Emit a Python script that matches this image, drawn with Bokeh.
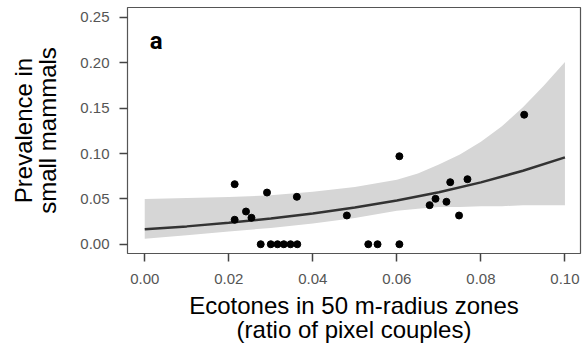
from bokeh.plotting import figure
from bokeh.models import Range1d, FixedTicker
from bokeh.core.properties import value
from bokeh.embed import file_html
from bokeh.resources import INLINE

# observed points
pts_x = [0.0214, 0.0214, 0.0241, 0.0254, 0.0276, 0.0291, 0.0300, 0.0316, 0.0331,
         0.0347, 0.0363, 0.0362, 0.0481, 0.0532, 0.0554, 0.0606, 0.0606, 0.0678,
         0.0692, 0.0718, 0.0727, 0.0748, 0.0768, 0.0903]
pts_y = [0.0662, 0.0270, 0.0361, 0.0292, 0.0, 0.0570, 0.0, 0.0, 0.0,
         0.0, 0.0, 0.0523, 0.0317, 0.0, 0.0, 0.0970, 0.0, 0.0431,
         0.0501, 0.0468, 0.0684, 0.0317, 0.0717, 0.1428]

# fitted curve
fit_x = [0.00, 0.01, 0.02, 0.03, 0.04, 0.05, 0.06, 0.07, 0.08, 0.09, 0.10]
fit_y = [0.0165, 0.0197, 0.0237, 0.0283, 0.0339, 0.0405, 0.0482, 0.0574, 0.0682, 0.0810, 0.0958]

# confidence band
band_x = [0.00, 0.01, 0.02, 0.03, 0.04, 0.05, 0.06, 0.065, 0.07, 0.075, 0.08, 0.085, 0.09, 0.095, 0.10]
band_hi = [0.050, 0.051, 0.052, 0.054, 0.058, 0.063, 0.071, 0.078, 0.088, 0.099, 0.113, 0.130, 0.151, 0.175, 0.201]
band_lo = [0.006, 0.010, 0.014, 0.018, 0.023, 0.029, 0.037, 0.039, 0.041, 0.041, 0.042, 0.042, 0.043, 0.043, 0.043]

x_ticks = [0.00, 0.02, 0.04, 0.06, 0.08, 0.10]
y_ticks = [0.00, 0.05, 0.10, 0.15, 0.20, 0.25]

panel_label = ["a"]

FONT = "Liberation Sans"

p = figure(width=582, height=349, output_backend="svg", toolbar_location=None,
           x_range=Range1d(-0.0041, 0.1037), y_range=Range1d(-0.0102, 0.261),
           min_border_left=127, min_border_right=2, min_border_top=7, min_border_bottom=96)

p.varea(x=band_x, y1=band_lo, y2=band_hi, fill_color="#d6d6d6")
p.line(fit_x, fit_y, line_color="#333333", line_width=2.5)
p.scatter(pts_x, pts_y, size=7, fill_color="black", line_color="black")

p.text(x=[0.0012], y=[0.224], text=panel_label, text_font=value("Roboto"), text_font_size="24px",
       text_font_style="bold", text_color="black", text_baseline="alphabetic", text_align="left")

p.grid.visible = False
p.outline_line_color = "#555555"
p.outline_line_width = 1.2
p.background_fill_color = "white"
p.border_fill_color = "white"

for ax in (p.xaxis[0], p.yaxis[0]):
    ax.axis_line_color = None
    ax.major_tick_line_color = "#444444"
    ax.major_tick_line_width = 1.5
    ax.major_tick_in = 0
    ax.major_tick_out = 8
    ax.minor_tick_line_color = None
    ax.major_label_text_font = FONT
    ax.major_label_text_font_size = "15px"
    ax.major_label_text_color = "#555555"
    ax.axis_label_text_font = FONT
    ax.axis_label_text_font_size = "24px"
    ax.axis_label_text_font_style = "normal"
    ax.axis_label_text_color = "black"
    ax.axis_label_text_line_height = 0.9

p.xaxis.ticker = FixedTicker(ticks=x_ticks)
p.yaxis.ticker = FixedTicker(ticks=y_ticks)
p.xaxis[0].major_label_overrides = {t: f"{t:.2f}" for t in x_ticks}
p.yaxis[0].major_label_overrides = {t: f"{t:.2f}" for t in y_ticks}
p.xaxis.major_label_standoff = 12
p.yaxis.major_label_standoff = 10
p.xaxis.axis_label = "Ecotones in 50 m-radius zones\n(ratio of pixel couples)"
p.yaxis.axis_label = "Prevalence in\nsmall mammals"
p.xaxis.axis_label_standoff = 5
p.yaxis.axis_label_standoff = 16

open("out.html", "w").write(file_html(p, INLINE))
